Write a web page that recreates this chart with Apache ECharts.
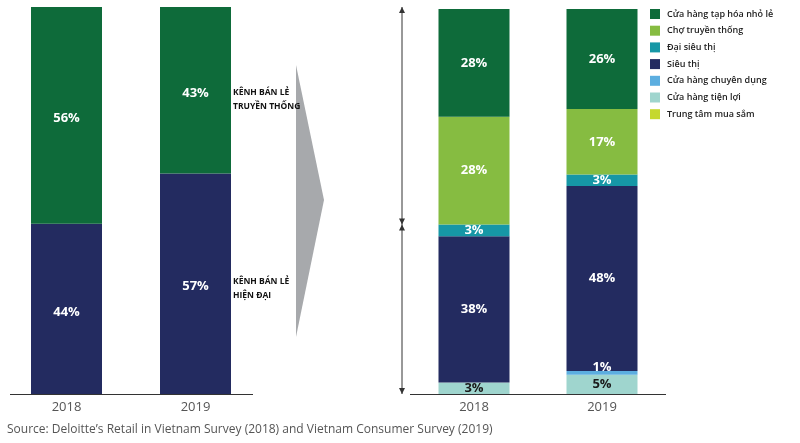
<!DOCTYPE html>
<html><head><meta charset="utf-8">
<script src="https://cdn.jsdelivr.net/npm/echarts@6/dist/echarts.min.js"></script>
<style>html,body{margin:0;padding:0;background:#fff}#c{width:800px;height:443px}</style>
</head><body><div id="c"></div>
<script>
const years = ['2018', '2019'];
// left chart
const modernChannel = [44, 57];
const traditionalChannel = [56, 43];
// right chart (bottom to top)
const convenience = [3, 5];
const specialty = [0, 1];
const supermarket = [38, 48];
const hypermarket = [3, 3];
const wetMarket = [28, 17];
const grocery = [28, 26];
const mall = [0, 0];
const legendNames = ['Cửa hàng tạp hóa nhỏ lẻ','Chợ truyền thống','Đại siêu thị','Siêu thị','Cửa hàng chuyên dụng','Cửa hàng tiện lợi','Trung tâm mua sắm'];

const C = {green:'#0e6b3a', lgreen:'#86bc41', teal:'#1697a6', navy:'#232b60', lblue:'#5caee0', lteal:'#9fd5ce', yg:'#c5d82f'};
const FONT = '"Open Sans", sans-serif';

function lab(color, extra) {
  return Object.assign({show:true, position:'inside', color:color, fontFamily:FONT, fontWeight:'bold', fontSize:13,
    formatter: p => p.value > 0 ? p.value + '%' : ''}, extra || {});
}
function bar(name, data, color, xi, labelColor, extraLab) {
  return {name, type:'bar', stack:'s'+xi, xAxisIndex:xi, yAxisIndex:xi, data, barWidth:71,
    itemStyle:{color}, label: lab(labelColor || '#fff', extraLab), emphasis:{disabled:true}, silent:true};
}

const chart = echarts.init(document.getElementById('c'), null, {renderer:'canvas'});
const xCommon = {type:'category', data:years, axisTick:{show:false}, axisLine:{show:false},
  axisLabel:{color:'#555', fontSize:13, fontFamily:FONT, margin:7}};
const yCommon = {type:'value', min:0, max:100, show:false};
chart.setOption({
  animation:false,
  textStyle:{fontFamily:FONT},
  grid:[{left:2, width:258, top:7, bottom:49}, {left:410, width:256, top:9, bottom:49}],
  xAxis:[Object.assign({gridIndex:0}, xCommon), Object.assign({gridIndex:1}, xCommon)],
  yAxis:[Object.assign({gridIndex:0}, yCommon), Object.assign({gridIndex:1}, yCommon)],
  legend:{data:legendNames, orient:'vertical', left:650, top:9, padding:0, itemWidth:10, itemHeight:10, itemGap:6.7,
    icon:'rect', selectedMode:false, textStyle:{fontSize:9, fontWeight:600, color:'#222', fontFamily:FONT, padding:[0,0,0,2]}},
  series:[
    bar('Kênh bán lẻ hiện đại', modernChannel, C.navy, 0, '#fff', {offset:[0,3]}),
    bar('Kênh bán lẻ truyền thống', traditionalChannel, C.green, 0, '#fff', {offset:[0,3]}),
    bar('Cửa hàng tiện lợi', convenience, C.lteal, 1, '#1a1a1a'),
    bar('Cửa hàng chuyên dụng', specialty, C.lblue, 1, '#fff', {offset:[0,-6]}),
    bar('Siêu thị', supermarket, C.navy, 1),
    bar('Đại siêu thị', hypermarket, C.teal, 1),
    bar('Chợ truyền thống', wetMarket, C.lgreen, 1),
    bar('Cửa hàng tạp hóa nhỏ lẻ', grocery, C.green, 1),
    bar('Trung tâm mua sắm', mall, C.yg, 1)
  ]
});

// decorations computed from the scales
const base0 = chart.convertToPixel({xAxisIndex:0, yAxisIndex:0}, [0, 0]);
const base1 = chart.convertToPixel({xAxisIndex:1, yAxisIndex:1}, [0, 0]);
const top1 = chart.convertToPixel({xAxisIndex:1, yAxisIndex:1}, [0, 100]);
const split1 = chart.convertToPixel({xAxisIndex:1, yAxisIndex:1}, [0, modernChannel[0]]);
const b19 = chart.convertToPixel({xAxisIndex:0, yAxisIndex:0}, [1, 0]);
const yTrad = chart.convertToPixel({xAxisIndex:0, yAxisIndex:0}, [1, 100]);
const ySplit19 = chart.convertToPixel({xAxisIndex:0, yAxisIndex:0}, [1, modernChannel[1]]);

const ax = 402, ah = 6, aw = 3;
const arrowCol = '#333';
const tri = (x, y, dir) => ({type:'polygon', shape:{points: dir < 0 ? [[x,y],[x-aw,y+ah],[x+aw,y+ah]] : [[x,y],[x-aw,y-ah],[x+aw,y-ah]]}, style:{fill:arrowCol}});
const annX = b19[0] + 71/2 + 2;
const annStyle = {fill:'#111', font:'bold 8.5px "Open Sans", sans-serif', lineHeight:14};

chart.setOption({graphic:[
  {type:'line', shape:{x1:10, y1:base0[1]+0.5, x2:253, y2:base0[1]+0.5}, style:{stroke:'#333', lineWidth:1}},
  {type:'line', shape:{x1:410, y1:base1[1]+0.5, x2:666, y2:base1[1]+0.5}, style:{stroke:'#333', lineWidth:1}},
  {type:'polygon', shape:{points:[[296,65],[324,200],[296,337]]}, style:{fill:'#a7a9ac'}},
  {type:'line', shape:{x1:ax, y1:top1[1]-2, x2:ax, y2:base1[1]}, style:{stroke:arrowCol, lineWidth:1}},
  tri(ax, top1[1]-2, -1),
  tri(ax, base1[1], 1),
  tri(ax, split1[1], 1),
  tri(ax, split1[1], -1),
  {type:'text', x:annX, y:yTrad[1]+79, style:Object.assign({text:'KÊNH BÁN LẺ\nTRUYỀN THỐNG'}, annStyle)},
  {type:'text', x:annX, y:ySplit19[1]+101, style:Object.assign({text:'KÊNH BÁN LẺ\nHIỆN ĐẠI'}, annStyle)},
  {type:'text', x:7, y:424, style:{text:"Source: Deloitte’s Retail in Vietnam Survey (2018) and Vietnam Consumer Survey (2019)", fill:'#555', font:'12px "Open Sans", sans-serif'}}
]});
</script></body></html>
